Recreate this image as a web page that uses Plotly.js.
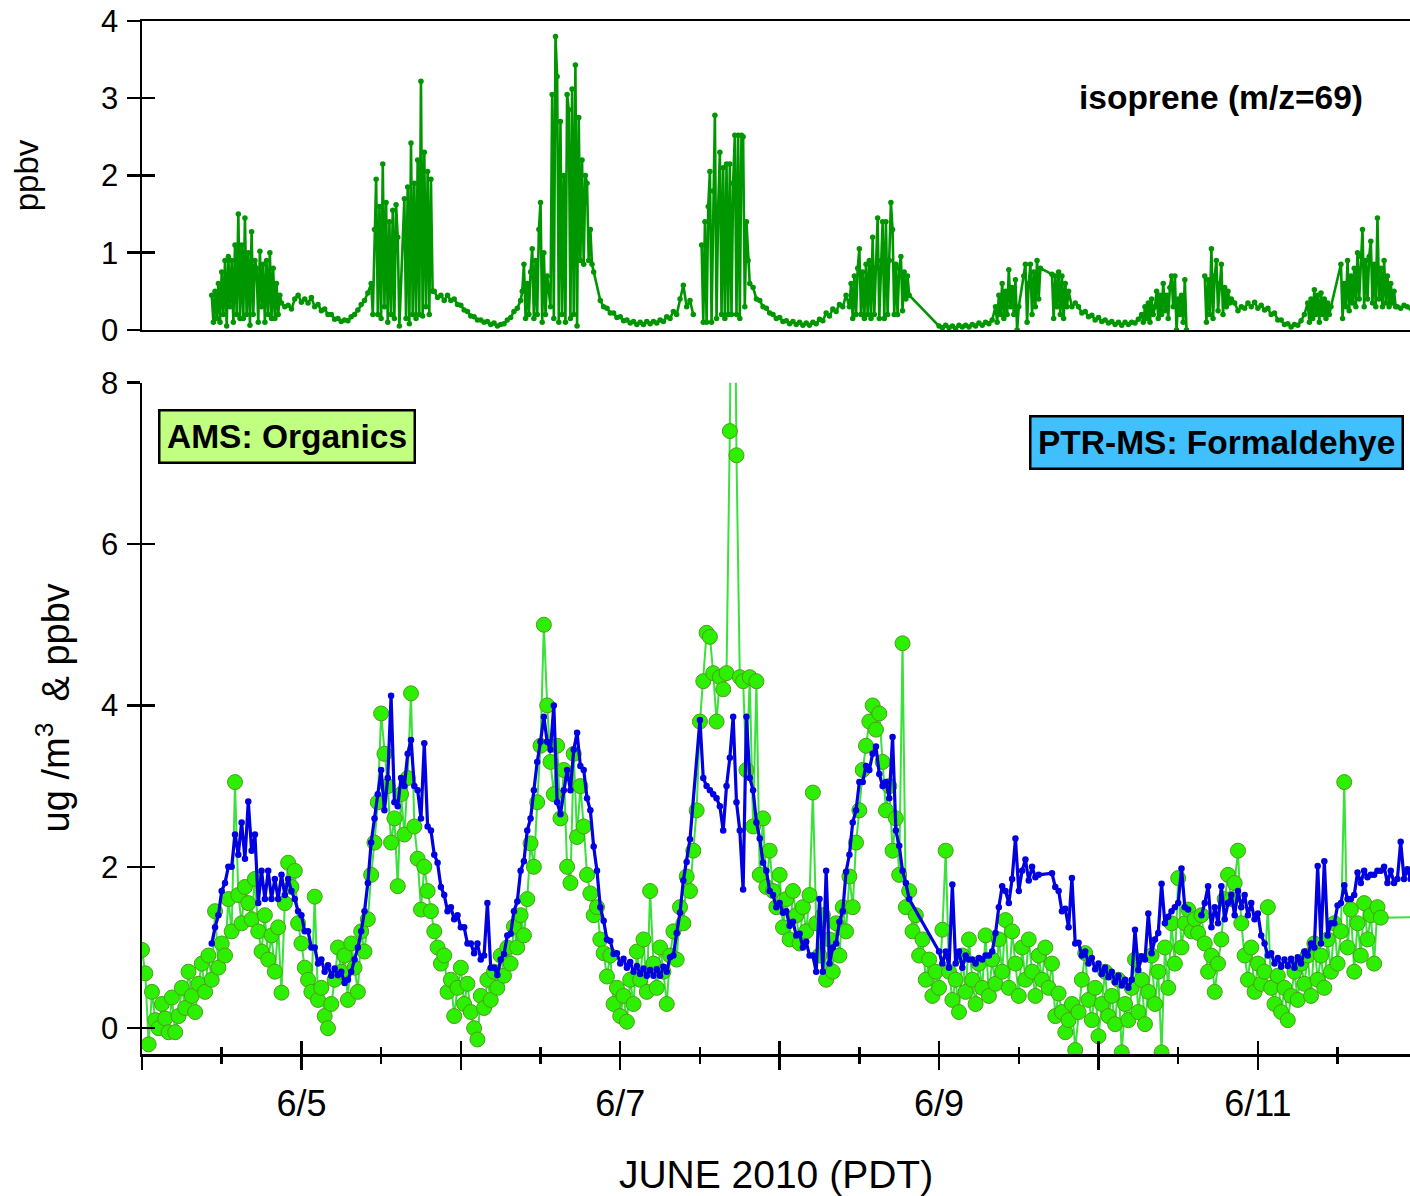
<!DOCTYPE html>
<html>
<head>
<meta charset="utf-8">
<script src="https://cdn.plot.ly/plotly-3.0.1.min.js"></script>
<style>html,body{margin:0;padding:0;background:#fff;}#chart{width:1410px;height:1196px;}</style>
</head>
<body>
<div id="chart"></div>
<script>
// ---------------- DATA (hours since 2010-06-04 00:00 PDT) ----------------
const tickDays   = ['2010-06-04','2010-06-05','2010-06-06','2010-06-07','2010-06-08','2010-06-09','2010-06-10','2010-06-11'];
const tickLabels = ['', '6/5', '', '6/7', '', '6/9', '', '6/11'];

// Isoprene (m/z=69), ppbv : segments
const isoA = [0.45,0.1,0.5,0.15,0.6,0.1,0.75,0.2,0.9,0.05,0.95,0.3,0.9,0.1,1.1,0.2,1.5,0.15,1.1,0.15,1.45,0.2,1.0,0.06,1.27,0.2,0.9];
const isoB = [0.8,0.1,1.02,0.3,0.85,0.1,0.9,0.2,1.0,0.15,0.8,0.15,0.6,0.2,0.45];
const isoC = [0.35,0.3,0.32,0.27,0.4,0.45,0.36,0.4,0.35,0.42,0.3,0.33,0.25,0.27,0.2,0.2,0.14,0.15,0.11,0.13,0.12,0.17,0.2,0.26,0.33,0.38,0.48];
const isoD = [0.6,0.2,1.3,1.95,0.2,1.6,0.15,2.15,0.3,1.65,0.1,1.4,0.2,1.55,0.15,1.62,1.2,0.05];
const isoE = [1.7,0.15,1.85,0.08,2.42,0.2,1.9,0.15,2.2,0.2,3.22,0.18,2.3,0.3,2.05,0.2,1.95,0.5];
const isoF = [0.5,0.42,0.45,0.38,0.45,0.38,0.4,0.33,0.32,0.26,0.24,0.18,0.17,0.13,0.13,0.1,0.11,0.07,0.09,0.05,0.07,0.08,0.13,0.16,0.24,0.28,0.38];
const isoG = [0.5,0.85,0.15,0.6,0.2,0.75,1.05,0.15,0.9,0.2,1.3,1.65,0.1,1.0,0.2,0.7];
const isoH = [0.3,3.05,0.15,3.8,3.28,0.1,2.7,0.2,2.0,0.1,3.05,2.85,0.15,3.12,0.2,3.43,0.05,2.75,0.9,2.2,0.85,2.0,1.9,0.9,1.3,0.85,0.75];
const isoI = [0.38,0.3,0.28,0.22,0.22,0.16,0.17,0.12,0.13,0.09,0.11,0.07,0.1,0.07,0.11,0.08,0.11,0.09,0.13,0.11,0.17,0.15,0.24,0.2,0.4,0.58,0.3,0.38,0.2];
const isoJ = [1.1,0.1,1.4,0.1,1.6,2.05,0.1,1.8,2.78,0.15,1.6,2.3,0.2,2.1,0.15,2.15,0.2,2.15,0.2,1.9,2.52,0.2,2.52,0.15,2.52,2.5,0.3,1.4,0.9,0.6];
const isoK = [0.55,0.4,0.38,0.3,0.28,0.22,0.2,0.15,0.16,0.11,0.12,0.08,0.11,0.07,0.1,0.06,0.09,0.06,0.1,0.08,0.14,0.12,0.22,0.18,0.27,0.24,0.33,0.3,0.45];
const isoL = [0.3,0.6,0.15,0.7,0.2,0.8,1.05,0.2,0.75,0.15,0.85,0.2,0.9,0.15,1.2,0.2,0.8,1.45,0.15,0.9,1.4,0.15,1.4,0.2,0.9,1.65,1.3,0.2,0.85,0.2,0.8,0.95,0.25,0.75,0.4,0.7,0.45];
const isoM = [0.05,0.03,0.06,0.03,0.05,0.02,0.06,0.04,0.06,0.04,0.07,0.05,0.09,0.06,0.1,0.08,0.13];
const isoN = [0.3,0.1,0.45,0.2,0.6,0.15,0.5,0.2,0.78,0.3,0.55,0.2,0.65,0.0,0.3];
const isoO = [0.7,0.85,0.1,0.6,0.85,0.2,0.75,0.3,0.9,0.4,0.8];
const isoP = [0.72,0.15,0.7,0.3,0.75,0.2,0.7,0.15,0.6,0.3,0.5];
const isoQ = [0.3,0.35,0.3,0.22,0.24,0.17,0.19,0.13,0.16,0.11,0.13,0.09,0.11,0.07,0.1,0.06,0.1,0.07,0.1,0.09,0.14];
const isoR = [0.2,0.1,0.3,0.15,0.35,0.1,0.4,0.2,0.3,0.5,0.15,0.45,0.2,0.6,0.25,0.45,0.15,0.55,0.7,0.3,0.7,0.0,0.4,0.2,0.45,0.1,0.65,0.0];
const isoS = [0.7,0.1,0.65,0.2,1.05,0.15,0.7,0.9,0.25,0.6,0.85,0.2,0.55,0.3,0.5,0.35,0.4];
const isoT = [0.35,0.25,0.3,0.28,0.35,0.3,0.36,0.28,0.32,0.26,0.28,0.2,0.22,0.13,0.13,0.07,0.08,0.04,0.07,0.06,0.12,0.2];
const isoU = [0.35,0.1,0.4,0.15,0.52,0.2,0.45,0.1,0.48,0.2,0.4,0.15,0.35,0.2,0.3];
const isoV = [0.85,0.15,0.6,0.3,0.9,0.25,0.7,0.35,0.8,0.3,1.0,0.4,0.95,1.3,0.3,0.9,0.4,0.95,1.15,0.35,0.85,0.3,1.45,0.4,0.8,0.3,0.9,0.35,0.7,0.3,0.6,0.35,0.5,0.3];
const isoW = [0.3,0.28,0.32,0.3,0.28,0.3];
const isoStart = [10.5, 17.25, 21, 34.5, 39.5, 44, 57.25, 61.5, 69, 84.25, 92, 106.5, 120, 128.5, 132.75, 137, 140, 150.5, 160, 164.5, 175.5, 180.5, 189];
const isoStep  = [0.25, 0.25, 0.5, 0.25, 0.25, 0.5, 0.25, 0.25, 0.5, 0.25, 0.5, 0.25, 0.5, 0.25, 0.25, 0.25, 0.5, 0.25, 0.25, 0.5, 0.25, 0.25, 0.5];
const isoJoin  = [false, true, true, true, true, true, true, true, true, false, true, true, true, true, true, true, true, true, false, true, true, true, true];
const isoVals  = [isoA,isoB,isoC,isoD,isoE,isoF,isoG,isoH,isoI,isoJ,isoK,isoL,isoM,isoN,isoO,isoP,isoQ,isoR,isoS,isoT,isoU,isoV,isoW];

// AMS Organics, ug/m3 : every 0.5 h from 0 h
const amsOrg = [
 0.97,0.68,-0.2,0.45,0.1,0.0,0.3,0.12,-0.05,0.38,-0.05,0.15,
 0.5,0.25,0.7,0.4,0.2,0.55,0.8,0.45,0.9,0.6,1.45,0.75,
 1.05,0.9,1.6,1.2,3.05,1.65,1.3,1.75,1.55,1.35,1.85,1.2,
 0.95,1.4,0.85,1.15,0.7,1.25,0.44,1.55,2.05,1.75,1.95,1.3,
 1.05,0.75,0.6,0.45,1.63,0.35,0.5,0.15,0.0,0.3,0.6,1.0,
 0.7,0.9,0.35,1.05,0.75,0.45,1.2,0.95,1.35,1.9,2.3,2.8,
 3.9,3.4,3.0,2.3,2.6,1.76,2.9,2.4,3.1,4.15,2.5,2.1,
 1.47,2.0,1.7,1.45,1.2,1.0,0.8,0.9,0.45,0.6,0.15,0.5,
 0.75,0.3,0.55,0.2,0.0,-0.14,0.4,0.25,0.6,0.35,0.7,0.5,
 0.9,0.65,1.0,0.8,1.26,1.0,1.4,1.15,1.6,2.29,2.0,2.8,
 3.5,5.0,4.0,3.3,2.9,3.5,2.6,3.2,2.0,1.8,3.4,2.37,
 3.0,2.5,1.9,1.67,1.4,1.5,1.1,0.93,0.64,0.9,0.3,0.5,
 0.15,0.4,0.08,0.6,0.3,0.95,0.6,1.1,0.45,1.7,0.8,0.5,
 1.0,0.7,0.3,0.9,1.2,0.85,1.5,1.3,1.88,1.7,2.2,2.7,
 3.8,4.3,4.9,4.85,4.4,3.8,4.35,4.2,4.4,7.4,12,7.1,
 4.35,4.3,3.2,4.35,2.5,4.3,1.9,2.6,1.75,2.2,1.7,1.5,
 1.9,1.25,1.6,1.1,1.7,1.4,1.05,1.5,1.2,1.65,2.92,1.3,
 0.9,1.4,0.6,1.1,0.7,1.3,0.9,1.5,1.2,1.88,1.5,2.3,
 2.7,3.2,3.5,3.8,4.0,3.7,3.9,3.3,2.7,3.0,2.2,2.6,
 1.9,4.77,1.5,1.7,1.2,1.4,0.9,1.1,0.6,0.85,0.4,0.7,
 0.5,1.22,2.2,0.7,0.35,0.6,0.2,0.9,0.45,1.1,0.6,0.3,
 0.8,0.5,1.15,0.4,0.85,0.55,1.1,0.7,1.34,0.5,1.2,0.8,
 0.4,1.0,0.6,1.1,0.7,0.4,0.9,0.6,1.0,0.5,0.8,0.15,
 0.43,0.2,-0.05,0.1,0.3,-0.27,0.2,0.6,0.93,0.35,0.1,0.5,
 -0.1,0.3,0.7,0.15,0.4,0.05,0.6,-0.3,0.3,0.1,0.5,0.85,
 0.2,0.6,0.05,0.45,0.9,0.3,0.7,-0.3,1.0,0.5,1.3,0.8,
 1.86,1.0,1.3,1.47,1.2,1.35,1.18,1.4,1.05,0.7,0.9,0.45,
 0.8,1.1,1.6,1.9,1.6,1.8,2.2,1.3,0.9,0.6,1.0,0.45,
 0.8,0.55,0.7,1.5,0.5,0.3,0.65,0.2,0.5,0.1,0.4,0.7,
 0.35,0.8,0.55,0.9,0.4,1.05,0.6,0.9,0.5,1.1,0.7,1.3,
 0.8,1.2,3.05,1.0,1.47,0.7,1.3,0.9,1.55,1.1,1.4,0.8,
 1.5,1.37
];
const amsTail  = [1.38];          // last reading (hour 195): flat line to the edge
const amsStart = [0, 195];

// PTR-MS Formaldehyde, ppbv : segments every 0.5 h
const hchoA = [
 1.05,1.25,1.4,1.7,1.8,2.0,2.0,2.4,2.15,2.55,2.1,
 2.81,2.2,2.4,1.55,1.95,1.6,1.95,1.6,1.85,1.6,1.9,1.65,
 1.85,1.7,1.6,1.45,1.4,1.2,1.2,1.0,1.0,0.8,0.85,0.7,
 0.78,0.65,0.74,0.66,0.7,0.56,0.6,0.7,0.85,1.0,1.2,1.45,
 1.8,2.3,2.6,2.9,3.2,2.7,3.1,4.12,2.8,2.75,3.1,3.0,
 3.4,3.57,3.0,2.95,2.6,3.53,2.5,2.45,2.15,2.05,1.75,1.65,
 1.45,1.5,1.35,1.4,1.25,1.25,1.05,1.05,0.93,1.05,0.85,0.9,
 1.55,0.75,0.75,0.66,0.85,0.92,1.15,1.17,1.45,1.57,1.95,2.07,
 2.45,2.6,2.95,3.3,3.55,3.86,3.55,3.45,4.0,2.8,2.65,2.95,
 3.2,2.95,3.45,3.66,3.25,3.2,2.85,2.7,2.25,1.95,1.5,1.33,
 1.1,1.08,0.92,0.93,0.8,0.86,0.75,0.82,0.7,0.77,0.67,0.74,
 0.65,0.72,0.65,0.73,0.65,0.76,0.7,0.88,0.9,1.18,1.43,1.83,
 2.06,2.34
];
const hchoB = [
 3.82,3.1,3.0,2.95,2.9,2.85,2.75,2.45,3.0,3.35,3.86,2.8,
 2.45,1.72,3.86,3.1,2.95,2.55,2.35,2.05,1.95,1.7,1.65,1.5,
 1.55,1.43,1.45,1.27,1.32,1.15,1.17,1.0,1.07,0.9,0.9,0.7,
 1.6,0.7,1.95,0.8,1.0,1.05,1.32,1.45,1.94,2.15,2.55,2.7,
 3.05,3.05,3.25,3.2,3.4,3.49,3.15,3.0,3.05,2.85,3.61,2.45,
 2.26,1.95,1.8,1.6
];
const hchoC = [
 0.95,0.8,0.95,0.75,1.78,0.8,0.95,0.75,0.9,0.85,0.85,0.8,
 0.87,0.85,0.9,0.9,0.95,1.18,1.5,1.76,1.7,1.55,1.85,2.35,
 1.7,1.95,2.09,1.83,2.0,1.87,1.9
];
const hchoD = [
 1.92,1.75,1.7,1.45,1.48,1.25,1.86,1.05,1.06,0.9,0.95,0.8,
 0.87,0.73,0.8,0.67,0.75,0.63,0.7,0.57,0.65,0.53,0.6,0.5,
 0.6,1.22,0.72,0.89,0.85,1.42,0.93,1.1,1.18,1.79,1.3,1.38,
 1.45,1.5,1.55,1.98,1.5,1.47
];
const hchoE = [
 1.4,
 1.55,1.76,1.25,1.5,1.3,1.76,1.35,1.55,1.65,1.4,1.7,1.5,
 1.65,1.4,1.55,1.35,1.42,1.15,1.05,0.9,0.93,0.8,0.87,0.76,
 0.85,0.77,0.86,0.75,0.88,0.8,0.95,0.9,1.05,1.0,2.01,1.05,
 2.07,1.15,1.3,1.3,1.52,1.55,1.77,1.6,1.6,1.65,1.93,1.8,
 1.95,1.87,1.9,1.9,1.95,1.95,2.0,1.8,1.95,1.8,1.85,2.31,
 1.85,1.97,1.85
];
const hchoStart = [10.5, 84, 120, 137, 159.5];
const hchoJoin  = [false, true, true, true, false];
const hchoVals  = [hchoA, hchoB, hchoC, hchoD, hchoE];

// ---------------- BUILD ----------------
const T0 = Date.UTC(2010, 5, 4, 0, 0, 0);
function toDate(h) {
  return new Date(T0 + Math.round(h * 3600000)).toISOString().replace('T', ' ').slice(0, 19);
}
function build(starts, steps, joins, vals) {
  const xs = [], ys = [];
  vals.forEach((v, k) => {
    if (!joins[k] && xs.length) { xs.push(toDate(starts[k] - 0.1)); ys.push(null); }
    v.forEach((val, i) => { xs.push(toDate(starts[k] + i * steps[k])); ys.push(val); });
  });
  return { x: xs, y: ys };
}
const iso  = build(isoStart, isoStep, isoJoin, isoVals);
const ams  = build(amsStart, [0.5, 0.5], [false, true], [amsOrg, amsTail]);
const hcho = build(hchoStart, hchoStart.map(() => 0.5), hchoJoin, hchoVals);

const X_RANGE = ['2010-06-04 00:00:00', '2010-06-11 22:54:00'];

const traces = [
  { type: 'scatter', mode: 'lines+markers', name: 'isoprene (m/z=69)', x: iso.x, y: iso.y,
    xaxis: 'x2', yaxis: 'y2', line: { color: '#009600', width: 2.6 },
    marker: { color: '#009600', size: 5.5 } },
  { type: 'scatter', mode: 'lines+markers', name: 'AMS: Organics', x: ams.x, y: ams.y,
    xaxis: 'x', yaxis: 'y', line: { color: '#3be03b', width: 2 },
    marker: { color: '#2cf000', size: 15, line: { color: '#4f9a1e', width: 1 } } },
  { type: 'scatter', mode: 'lines+markers', name: 'PTR-MS: Formaldehye', x: hcho.x, y: hcho.y,
    xaxis: 'x', yaxis: 'y', line: { color: '#0000e0', width: 3.2 },
    marker: { color: '#0000e0', size: 6.5 } },
  // empty helper traces so the overlaid (inside-tick) axes are drawn
  { type: 'scatter', x: [], y: [], xaxis: 'x3', yaxis: 'y', showlegend: false, hoverinfo: 'skip' },
  { type: 'scatter', x: [], y: [], xaxis: 'x', yaxis: 'y3', showlegend: false, hoverinfo: 'skip' },
  { type: 'scatter', x: [], y: [], xaxis: 'x2', yaxis: 'y4', showlegend: false, hoverinfo: 'skip' }
];

const AX = { showgrid: false, zeroline: false, linecolor: 'black', linewidth: 2.5,
             tickcolor: 'black', tickwidth: 2.5 };
const FONT = 'Liberation Sans, Arial, sans-serif';

const layout = {
  width: 1410, height: 1196,
  margin: { l: 142, r: 0, t: 21, b: 142 },
  paper_bgcolor: 'white', plot_bgcolor: 'white',
  showlegend: false,
  font: { family: FONT, color: 'black', size: 30 },
  xaxis: Object.assign({}, AX, {
    type: 'date', range: X_RANGE, domain: [0, 1], anchor: 'y',
    showline: true, ticks: 'outside', ticklen: 13,
    tickmode: 'array', tickvals: tickDays, ticktext: tickLabels,
    tickfont: { size: 36 }, ticklabelstandoff: 3,
    minor: { ticks: 'outside', ticklen: 7, tickwidth: 2.5, tickcolor: 'black',
             tickmode: 'linear', tick0: '2010-06-04', dtick: 43200000, showgrid: false },
    title: { text: 'JUNE 2010 (PDT)', font: { size: 39 }, standoff: 40 }
  }),
  xaxis3: Object.assign({}, AX, {
    type: 'date', range: X_RANGE, overlaying: 'x', anchor: 'y',
    showline: false, ticks: 'inside', ticklen: 13, showticklabels: false,
    tickmode: 'array', tickvals: tickDays,
    minor: { ticks: 'inside', ticklen: 7, tickwidth: 2.5, tickcolor: 'black',
             tickmode: 'linear', tick0: '2010-06-04', dtick: 43200000, showgrid: false }
  }),
  xaxis2: Object.assign({}, AX, {
    type: 'date', range: X_RANGE, domain: [0, 1], anchor: 'y2', matches: 'x',
    showline: true, mirror: true, ticks: '', showticklabels: false
  }),
  yaxis: Object.assign({}, AX, {
    domain: [0, 0.6499], range: [-0.32, 8], anchor: 'x',
    showline: true, ticks: 'outside', ticklen: 13, tickmode: 'linear', tick0: 0, dtick: 2,
    tickfont: { size: 31 }, ticklabelstandoff: 2,
    title: { text: '&nbsp;&nbsp;ug /m<sup>3</sup>  & ppbv', font: { size: 38 }, standoff: 20 }
  }),
  yaxis3: Object.assign({}, AX, {
    range: [-0.32, 8], overlaying: 'y', anchor: 'x', side: 'left',
    showline: false, ticks: 'inside', ticklen: 13, tickmode: 'linear', tick0: 0, dtick: 2,
    showticklabels: false
  }),
  yaxis2: Object.assign({}, AX, {
    domain: [0.7009, 1], range: [0, 4], anchor: 'x2',
    showline: true, ticks: 'outside', ticklen: 13, tickmode: 'linear', tick0: 0, dtick: 1,
    tickfont: { size: 31 }, ticklabelstandoff: 2,
    title: { text: 'ppbv', font: { size: 33 }, standoff: 53 }
  }),
  yaxis4: Object.assign({}, AX, {
    range: [0, 4], overlaying: 'y2', anchor: 'x2', side: 'left',
    showline: false, ticks: 'inside', ticklen: 13, tickmode: 'linear', tick0: 0, dtick: 1,
    showticklabels: false
  }),
  annotations: [
    { text: '<b>isoprene (m/z=69)</b>', xref: 'paper', yref: 'paper', x: 0.851, y: 0.9264,
      xanchor: 'center', yanchor: 'middle', showarrow: false, font: { size: 33.5 } },
    { text: '<b>AMS: Organics</b>', xref: 'paper', yref: 'paper', x: 0.1140, y: 0.5975,
      xanchor: 'center', yanchor: 'middle', showarrow: false, font: { size: 33.5 },
      bgcolor: '#c0ff80', bordercolor: 'black', borderwidth: 2.5, borderpad: 6.5 },
    { text: '<b>PTR-MS: Formaldehye</b>', xref: 'paper', yref: 'paper', x: 0.8475, y: 0.5924,
      xanchor: 'center', yanchor: 'middle', showarrow: false, font: { size: 33.5 },
      bgcolor: '#40c0ff', bordercolor: 'black', borderwidth: 2.5, borderpad: 6.5 }
  ]
};

Plotly.newPlot('chart', traces, layout, { staticPlot: true, displayModeBar: false });
</script>
</body>
</html>
